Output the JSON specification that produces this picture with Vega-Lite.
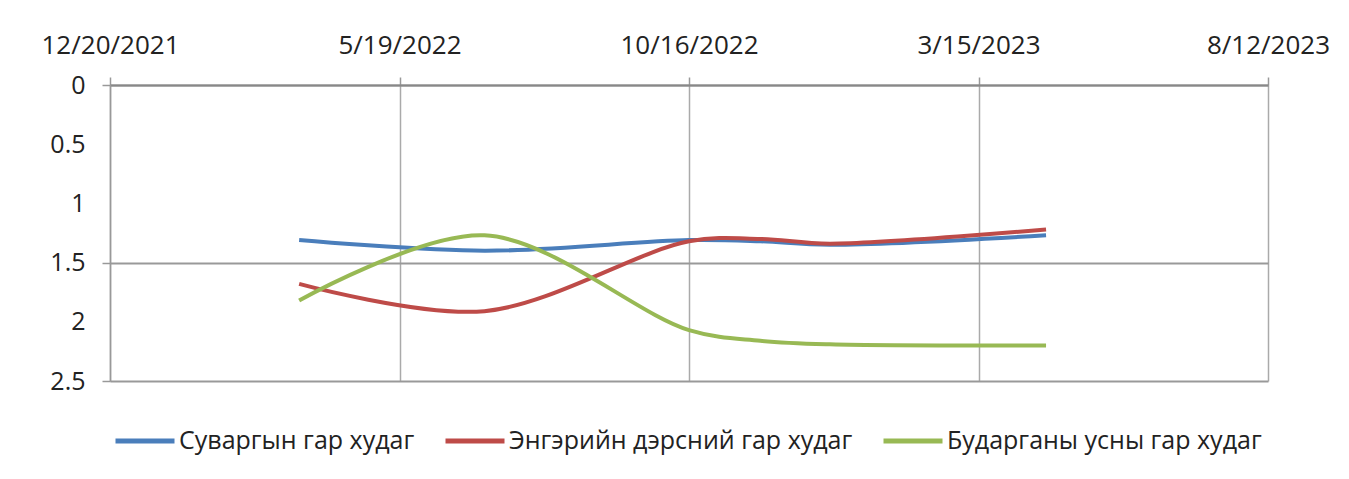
{
  "$schema": "https://vega.github.io/schema/vega-lite/v6.json",
  "width": 1158,
  "height": 296,
  "autosize": {"type": "none"},
  "padding": {"left": 110, "top": 85, "right": 81, "bottom": 98},
  "background": "white",
  "config": {
    "view": {"stroke": null},
    "font": "Open Sans"
  },
  "data": {
    "values": [
      {"date": "2022-03-28", "series": "Суваргын гар худаг", "depth": 1.31},
      {"date": "2022-07-02", "series": "Суваргын гар худаг", "depth": 1.40},
      {"date": "2022-10-16", "series": "Суваргын гар худаг", "depth": 1.31},
      {"date": "2022-11-22", "series": "Суваргын гар худаг", "depth": 1.32},
      {"date": "2022-12-28", "series": "Суваргын гар худаг", "depth": 1.35},
      {"date": "2023-04-19", "series": "Суваргын гар худаг", "depth": 1.27},
      {"date": "2022-03-28", "series": "Энгэрийн дэрсний гар худаг", "depth": 1.68},
      {"date": "2022-07-02", "series": "Энгэрийн дэрсний гар худаг", "depth": 1.91},
      {"date": "2022-10-16", "series": "Энгэрийн дэрсний гар худаг", "depth": 1.32},
      {"date": "2022-11-22", "series": "Энгэрийн дэрсний гар худаг", "depth": 1.30},
      {"date": "2022-12-28", "series": "Энгэрийн дэрсний гар худаг", "depth": 1.34},
      {"date": "2023-04-19", "series": "Энгэрийн дэрсний гар худаг", "depth": 1.22},
      {"date": "2022-03-28", "series": "Бударганы усны гар худаг", "depth": 1.82},
      {"date": "2022-07-02", "series": "Бударганы усны гар худаг", "depth": 1.27},
      {"date": "2022-10-16", "series": "Бударганы усны гар худаг", "depth": 2.07},
      {"date": "2022-11-22", "series": "Бударганы усны гар худаг", "depth": 2.16},
      {"date": "2022-12-28", "series": "Бударганы усны гар худаг", "depth": 2.19},
      {"date": "2023-04-19", "series": "Бударганы усны гар худаг", "depth": 2.20}
    ]
  },
  "mark": {"type": "line", "interpolate": "catmull-rom", "strokeWidth": 4},
  "encoding": {
    "x": {
      "field": "date",
      "type": "temporal",
      "scale": {
        "type": "utc",
        "domain": [
          {"year": 2021, "month": 12, "date": 20, "utc": true},
          {"year": 2023, "month": 8, "date": 12, "utc": true}
        ],
        "nice": false
      },
      "axis": {
        "orient": "top",
        "title": null,
        "values": [
          {"year": 2021, "month": 12, "date": 20, "utc": true},
          {"year": 2022, "month": 5, "date": 19, "utc": true},
          {"year": 2022, "month": 10, "date": 16, "utc": true},
          {"year": 2023, "month": 3, "date": 15, "utc": true},
          {"year": 2023, "month": 8, "date": 12, "utc": true}
        ],
        "labelExpr": "utcFormat(datum.value, '%-m/%-d/%Y')",
        "labelFontSize": 26,
        "labelColor": "#222222",
        "labelPadding": 19,
        "labelFlush": false,
        "labelOverlap": false,
        "tickSize": 8,
        "tickColor": "#999999",
        "tickWidth": 1.5,
        "domainColor": "#888888",
        "domainWidth": 2,
        "grid": true,
        "gridColor": "#aaaaaa",
        "gridWidth": 1.5
      }
    },
    "y": {
      "field": "depth",
      "type": "quantitative",
      "scale": {"domain": [0, 2.5], "reverse": true, "nice": false, "zero": false},
      "axis": {
        "title": null,
        "values": [0, 0.5, 1, 1.5, 2, 2.5],
        "labelExpr": "'' + datum.value",
        "labelFontSize": 25,
        "labelColor": "#222222",
        "labelPadding": 17,
        "tickSize": 8,
        "tickColor": "#999999",
        "tickWidth": 1.5,
        "tickOpacity": {"condition": {"test": "datum.value == 0 || datum.value == 1.5 || datum.value == 2.5", "value": 1}, "value": 0},
        "domainColor": "#999999",
        "domainWidth": 1.5,
        "grid": true,
        "gridColor": "#999999",
        "gridWidth": 2,
        "gridOpacity": {"condition": {"test": "datum.value == 0 || datum.value == 1.5 || datum.value == 2.5", "value": 1}, "value": 0}
      }
    },
    "color": {
      "field": "series",
      "type": "nominal",
      "sort": ["Суваргын гар худаг", "Энгэрийн дэрсний гар худаг", "Бударганы усны гар худаг"],
      "scale": {
        "domain": ["Суваргын гар худаг", "Энгэрийн дэрсний гар худаг", "Бударганы усны гар худаг"],
        "range": ["#4a7ebb", "#be4b48", "#98b954"]
      },
      "legend": {
        "title": null,
        "orient": "none",
        "direction": "horizontal",
        "legendX": 3,
        "legendY": 324,
        "padding": 0,
        "symbolType": "stroke",
        "symbolSize": 3481,
        "symbolStrokeWidth": 5,
        "labelFontSize": 25,
        "labelColor": "#222222",
        "labelOffset": 2,
        "columnPadding": 20,
        "labelLimit": 500
      }
    }
  }
}
